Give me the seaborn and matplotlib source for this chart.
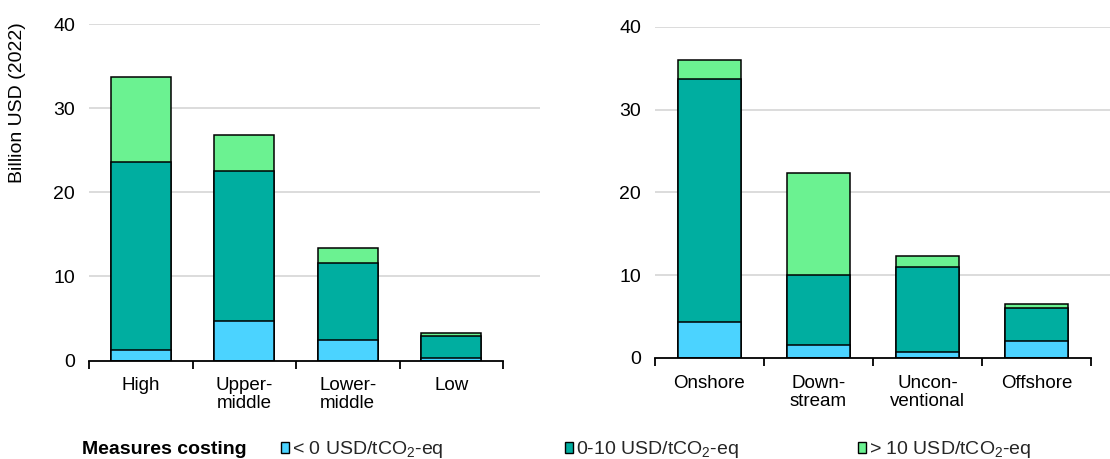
import numpy as np
import pandas as pd
import seaborn as sns
import matplotlib
matplotlib.use("Agg")
import matplotlib.pyplot as plt
from matplotlib.patches import Patch

# Abatement spending by income group and by segment (billion USD, 2022)
income_groups = ["High", "Upper-\nmiddle", "Lower-\nmiddle", "Low"]
income_below0 = [1.3, 4.7, 2.4, 0.25]
income_0to10 = [22.3, 17.9, 9.2, 2.7]
income_above10 = [10.1, 4.2, 1.8, 0.3]

segments = ["Onshore", "Down-\nstream", "Uncon-\nventional", "Offshore"]
segment_below0 = [4.35, 1.6, 0.7, 2.0]
segment_0to10 = [29.3, 8.4, 10.3, 4.0]
segment_above10 = [2.35, 12.3, 1.3, 0.5]

series_labels = ["< 0 USD/tCO$_2$-eq", "0-10 USD/tCO$_2$-eq", "> 10 USD/tCO$_2$-eq"]
legend_title = "Measures costing"
y_label = "Billion USD (2022)"
y_ticks = [0, 10, 20, 30, 40]

colors = ["#4BD3FF", "#00AEA0", "#6BF291"]

sns.set_theme(style="white")
plt.rcParams["font.family"] = ["Liberation Sans", "DejaVu Sans"]
plt.rcParams["mathtext.fontset"] = "custom"
plt.rcParams["mathtext.rm"] = "Liberation Sans"
plt.rcParams["mathtext.it"] = "Liberation Sans:italic"

FS_X = 13.5
FS_Y = 14
FS_LEG = 14

W, H = 1110, 459
fig = plt.figure(figsize=(W / 100, H / 100), dpi=100)


def make_axes(x0, x_grid_end, cat_w, y0, y40):
    # Axes span to where the gridlines end; categories keep their own width
    ax = fig.add_axes([x0 / W, 1 - y0 / H, (x_grid_end - x0) / W, (y0 - y40) / H])
    ax.set_xlim(-0.5, -0.5 + (x_grid_end - x0) / cat_w)
    return ax


ax_left = make_axes(89, 540, 103.5, 360.5, 24.3)
ax_right = make_axes(655, 1110, 109, 358, 26.7)


def stacked(ax, cats, layers):
    # Draw cumulative totals from the top layer down so each segment shows
    cum = np.cumsum(np.array(layers), axis=0)
    xlim = ax.get_xlim()
    for i in range(len(layers) - 1, -1, -1):
        df = pd.DataFrame({"cat": cats, "val": cum[i]})
        sns.barplot(data=df, x="cat", y="val", ax=ax, color=colors[i],
                    saturation=1, width=0.58, edgecolor="black",
                    linewidth=1.1, zorder=3)
    ax.set_xlim(*xlim)
    ax.set_ylim(0, 40)
    ax.set_yticks(y_ticks)
    ax.set_xlabel("")
    ax.set_ylabel("")
    ax.grid(False)
    for t in y_ticks[1:]:
        ax.axhline(t, color="#D9D9D9", linewidth=1.3, zorder=0)
    for s in ["top", "right", "left"]:
        ax.spines[s].set_visible(False)
    ax.spines["bottom"].set_color("black")
    ax.spines["bottom"].set_linewidth(1.3)
    ax.spines["bottom"].set_zorder(5)
    ax.spines["bottom"].set_bounds(-0.5, len(cats) - 0.5)
    ax.tick_params(axis="x", which="major", length=0, labelsize=FS_X, pad=12, colors="black")
    ax.set_xticks(np.arange(-0.5, len(cats), 1.0), minor=True)
    ax.tick_params(axis="x", which="minor", length=6, width=1.3, direction="out",
                   color="black", bottom=True)
    ax.tick_params(axis="y", length=0, labelsize=FS_Y, pad=10, colors="black")
    for lab in ax.get_xticklabels():
        lab.set_linespacing(1.1)


stacked(ax_left, income_groups, [income_below0, income_0to10, income_above10])
stacked(ax_right, segments, [segment_below0, segment_0to10, segment_above10])

fig.text(18 / W, 1 - 22 / H, y_label, rotation=90, va="top", ha="center",
         fontsize=FS_Y, color="black")

# Legend row
legend_y = 1 - 450 / H
fig.text(82 / W, legend_y, legend_title, fontweight="bold", fontsize=FS_LEG,
         va="center", ha="left", color="black")
legend_x = [281 / W, 565 / W, 858 / W]
for i, (lab, x) in enumerate(zip(series_labels, legend_x)):
    h = Patch(facecolor=colors[i], edgecolor="black", linewidth=1.0)
    fig.legend(handles=[h], labels=[lab], loc="center left",
               bbox_to_anchor=(x, legend_y), frameon=False, fontsize=FS_LEG,
               handlelength=0.42, handleheight=0.5, handletextpad=0.15,
               borderpad=0, borderaxespad=0)

fig.savefig("out.png", dpi=100)
